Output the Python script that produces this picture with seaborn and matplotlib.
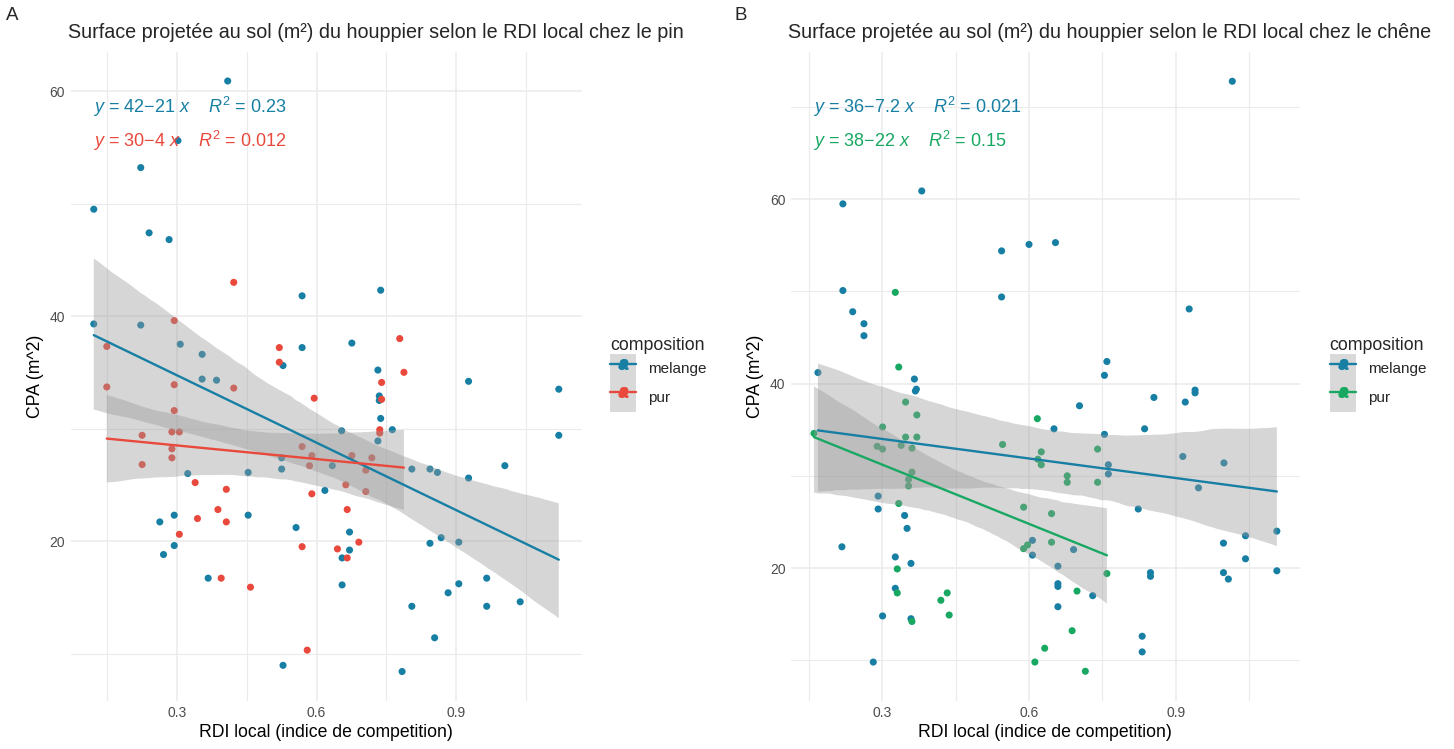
import numpy as np
import pandas as pd
import matplotlib
matplotlib.use("Agg")
import matplotlib.pyplot as plt
import seaborn as sns
from matplotlib.lines import Line2D
from matplotlib.patches import Patch
from matplotlib.legend_handler import HandlerTuple

# --- donnees ---
# pin, melange
pin_mel_x = [0.409, 0.302, 0.222, 0.121, 0.240, 0.283, 0.569, 0.121, 0.222, 0.307, 0.354, 0.569,
             0.528, 0.354, 0.385, 0.738, 0.676, 0.732, 0.735, 0.735, 0.927, 1.121, 0.738, 0.763,
             0.654, 0.732, 1.121, 0.634, 0.805, 0.844, 0.860, 1.005, 0.927, 0.671, 0.671, 0.655,
             0.655, 0.868, 0.844, 0.906, 0.906, 0.883, 0.966, 0.966, 1.038, 0.805, 0.854, 0.784,
             0.323, 0.453, 0.525, 0.525, 0.618, 0.453, 0.263, 0.294, 0.294, 0.271, 0.556, 0.367,
             0.528]
pin_mel_y = [60.9, 55.6, 53.2, 49.5, 47.4, 46.8, 41.8, 39.3, 39.2, 37.5, 36.6, 37.2,
             35.6, 34.4, 34.3, 42.3, 37.6, 35.2, 32.9, 32.5, 34.2, 33.5, 30.9, 29.9,
             29.8, 28.9, 29.4, 26.7, 26.4, 26.4, 26.1, 26.7, 25.6, 20.8, 19.2, 18.5,
             16.1, 20.3, 19.8, 19.9, 16.2, 15.4, 16.7, 14.2, 14.6, 14.2, 11.4, 8.4,
             26.0, 26.1, 27.4, 26.4, 24.5, 22.3, 21.7, 22.3, 19.6, 18.8, 21.2, 16.7,
             8.95]
# pin, pur
pin_pur_x = [0.422, 0.294, 0.149, 0.520, 0.520, 0.149, 0.294, 0.422, 0.595, 0.779, 0.788, 0.740,
             0.740, 0.736, 0.736, 0.676, 0.719, 0.706, 0.663, 0.706, 0.666, 0.645, 0.691, 0.666,
             0.294, 0.225, 0.289, 0.305, 0.289, 0.289, 0.225, 0.569, 0.590, 0.585, 0.590, 0.339,
             0.406, 0.388, 0.344, 0.406, 0.305, 0.569, 0.395, 0.458, 0.580]
pin_pur_y = [43.0, 39.6, 37.3, 37.2, 35.9, 33.7, 33.9, 33.6, 32.7, 38.0, 35.0, 34.1,
             32.6, 29.9, 29.6, 27.6, 27.4, 26.3, 25.0, 24.4, 22.8, 19.3, 19.9, 18.5,
             31.6, 29.4, 29.7, 29.7, 28.2, 27.4, 26.8, 28.4, 27.6, 26.7, 24.2, 25.2,
             24.6, 22.8, 22.0, 21.7, 20.6, 19.5, 16.7, 15.9, 10.3]
# chene, melange
che_mel_x = [0.220, 0.381, 0.544, 0.600, 0.544, 0.220, 0.240, 0.263, 0.263, 0.169, 0.366, 0.370,
             0.368, 1.015, 0.654, 0.927, 0.759, 0.754, 0.855, 0.939, 0.939, 0.919, 0.703, 0.651,
             0.836, 0.754, 0.762, 0.762, 0.914, 0.998, 0.946, 0.823, 0.691, 0.659, 0.659, 0.659,
             0.730, 0.659, 0.848, 0.848, 0.831, 0.831, 0.997, 1.042, 1.106, 1.042, 0.997, 1.007,
             1.106, 0.292, 0.292, 0.346, 0.351, 0.218, 0.327, 0.359, 0.327, 0.301, 0.359, 0.282,
             0.607, 0.607]
che_mel_y = [59.5, 60.9, 54.4, 55.1, 49.4, 50.1, 47.8, 46.5, 45.2, 41.2, 40.5, 39.4,
             39.2, 72.8, 55.3, 48.1, 42.4, 40.9, 38.5, 39.3, 39.0, 38.0, 37.6, 35.1,
             35.1, 34.5, 31.2, 30.2, 32.1, 31.4, 28.7, 26.4, 22.0, 20.2, 18.3, 18.0,
             17.0, 15.8, 19.5, 19.1, 12.6, 10.9, 22.7, 23.5, 24.0, 21.0, 19.5, 18.8,
             19.7, 27.8, 26.4, 25.7, 24.3, 22.3, 21.2, 20.5, 17.8, 14.8, 14.5, 9.8,
             23.0, 21.4]
# chene, pur
che_pur_x = [0.327, 0.334, 0.625, 0.740, 0.625, 0.678, 0.678, 0.740, 0.646, 0.646, 0.759, 0.698,
             0.688, 0.632, 0.715, 0.348, 0.371, 0.161, 0.301, 0.348, 0.371, 0.290, 0.301, 0.339,
             0.361, 0.361, 0.354, 0.354, 0.334, 0.331, 0.331, 0.361, 0.420, 0.433, 0.437, 0.546,
             0.617, 0.618, 0.589, 0.597, 0.589, 0.612]
che_pur_y = [49.9, 41.8, 32.6, 32.9, 31.2, 30.0, 29.3, 29.3, 25.9, 22.8, 19.4, 17.5,
             13.2, 11.3, 8.8, 38.0, 36.6, 34.6, 35.3, 34.2, 34.2, 33.2, 32.9, 33.3,
             33.0, 30.4, 29.6, 28.9, 27.0, 19.9, 17.3, 14.2, 16.5, 17.3, 14.9, 33.4,
             36.2, 31.8, 26.6, 22.5, 22.1, 9.8]

groups = ["melange", "pur"]
eq_pin = [r"$y$ = 42$-$21 $x$    $R^2$ = 0.23", r"$y$ = 30$-$4 $x$    $R^2$ = 0.012"]
eq_che = [r"$y$ = 36$-$7.2 $x$    $R^2$ = 0.021", r"$y$ = 38$-$22 $x$    $R^2$ = 0.15"]

BLUE = "#177FA3"
RED = "#E9493C"
GREEN = "#18A862"

def make_df(mx, my, px, py):
    return pd.DataFrame({
        "rdi": mx + px,
        "cpa": my + py,
        "composition": ["melange"] * len(mx) + ["pur"] * len(px),
    })

df_pin = make_df(pin_mel_x, pin_mel_y, pin_pur_x, pin_pur_y)
df_che = make_df(che_mel_x, che_mel_y, che_pur_x, che_pur_y)

sns.set_theme(style="white")
plt.rcParams["font.family"] = ["Liberation Sans", "DejaVu Sans"]
plt.rcParams["mathtext.fontset"] = "custom"
plt.rcParams["mathtext.rm"] = "Liberation Sans"
plt.rcParams["mathtext.it"] = "Liberation Sans:italic"

fig = plt.figure(figsize=(14.54, 7.49), dpi=100)
ax1 = fig.add_axes([0.0485, 0.0644, 0.3518, 0.8665])
ax2 = fig.add_axes([0.544, 0.0644, 0.350, 0.8665])


def panel(ax, df, colors, eqs, xlim, ylim, yminor, title, tag, tagx, legx):
    pal = dict(zip(groups, colors))
    sns.scatterplot(data=df, x="rdi", y="cpa", hue="composition", palette=pal,
                    s=26, linewidth=0, ax=ax, legend=False, zorder=1)
    for g in groups:
        sub = df[df["composition"] == g]
        n0 = len(ax.collections)
        sns.regplot(data=sub, x="rdi", y="cpa", scatter=False, ci=95, seed=3,
                    color=pal[g], line_kws={"lw": 1.7, "zorder": 3}, ax=ax)
        # ruban gris comme ggplot
        for c in ax.collections[n0:]:
            c.set_facecolor((0.6, 0.6, 0.6))
            c.set_alpha(0.4)
            c.set_edgecolor("none")
            c.set_zorder(2)

    ax.set_xlim(*xlim)
    ax.set_ylim(*ylim)
    ax.set_xticks([0.3, 0.6, 0.9])
    ax.set_xticks([0.15, 0.45, 0.75, 1.05], minor=True)
    ax.set_yticks([20, 40, 60])
    ax.set_yticks(yminor, minor=True)
    ax.grid(which="major", color="#EBEBEB", lw=1.1)
    ax.grid(which="minor", color="#EBEBEB", lw=0.8)
    ax.set_axisbelow(True)
    for s in ax.spines.values():
        s.set_visible(False)
    ax.tick_params(which="both", length=0, labelsize=10, labelcolor="#4D4D4D", pad=4)
    ax.set_xlabel("RDI local (indice de competition)", fontsize=12.7, color="black", labelpad=3)
    ax.set_ylabel("CPA (m^2)", fontsize=12.7, color="black", labelpad=4)

    for i, (g, txt) in enumerate(zip(groups, eqs)):
        ax.text(0.044, 0.915 - i * 0.053, txt, transform=ax.transAxes, color=pal[g],
                fontsize=13, va="center", ha="left")

    pos = ax.get_position()
    fig.text(pos.x0 - 0.002, 1 - 33 / 749, title, fontsize=14.2, va="center", ha="left")
    fig.text(tagx, 1 - 15 / 749, tag, fontsize=13.5, va="center", ha="left")

    handles = []
    for g in groups:
        handles.append((Patch(facecolor="#D9D9D9", edgecolor="none"),
                        Line2D([], [], color=pal[g], lw=1.7),
                        Line2D([], [], color=pal[g], marker="o", ls="", ms=4.5),
                        Line2D([], [], color=pal[g], marker="$a$", ls="", ms=7)))
    ax.legend(handles, groups, title="composition", loc="center left",
              bbox_to_anchor=(legx, 0.5), bbox_transform=fig.transFigure,
              handler_map={tuple: HandlerTuple(ndivide=1, pad=0)}, frameon=False,
              fontsize=11, title_fontsize=12.8, handlelength=1.7, handleheight=2.5,
              labelspacing=0.0, handletextpad=0.8, alignment="left")


panel(ax1, df_pin, [BLUE, RED], eq_pin, (0.071, 1.171), (5.8, 63.5), [10, 30, 50],
      "Surface projetée au sol (m²) du houppier selon le RDI local chez le pin", "A",
      6 / 1454, 0.410)
panel(ax2, df_che, [BLUE, GREEN], eq_che, (0.114, 1.153), (5.6, 76.0), [10, 30, 50, 70],
      "Surface projetée au sol (m²) du houppier selon le RDI local chez le chêne", "B",
      734 / 1454, 0.905)

fig.savefig("out.png", dpi=100)
